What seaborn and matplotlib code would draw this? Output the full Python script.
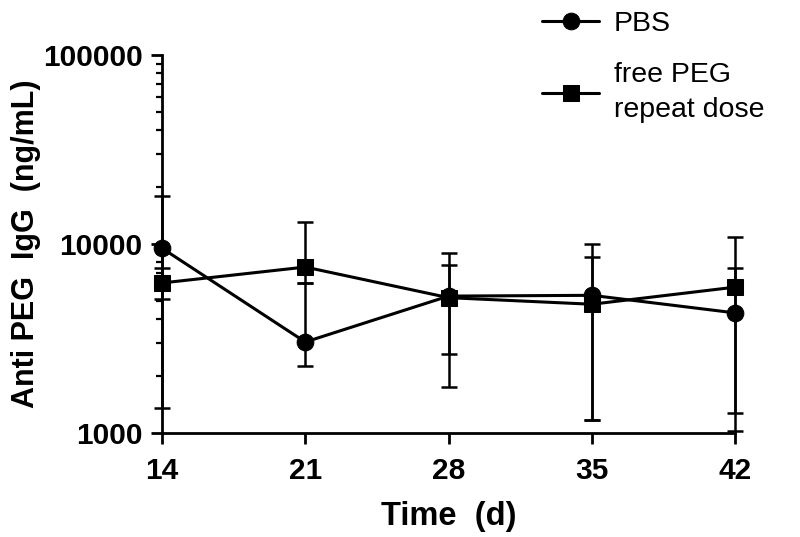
import numpy as np
import pandas as pd
import matplotlib
matplotlib.use("Agg")
import matplotlib.pyplot as plt
import seaborn as sns
from matplotlib.ticker import LogLocator, NullFormatter, FixedLocator, FixedFormatter

days = [14, 21, 28, 35, 42]
pbs_mean = [9500, 3030, 5300, 5350, 4320]
pbs_low = [1355, 2260, 1750, 1170, 1275]
pbs_high = [17950, 6220, 8960, 10000, 7460]
peg_mean = [6220, 7550, 5200, 4800, 5910]
peg_low = [5120, 6220, 2620, 1170, 1030]
peg_high = [7460, 13060, 7740, 8530, 10890]
series_names = ["PBS", "free PEG\nrepeat dose"]
y_ticks = [1000, 10000, 100000]
y_ticklabels = ["1000", "10000", "100000"]

sns.set_style("ticks")
plt.rcParams['font.family'] = ['Liberation Sans', 'DejaVu Sans']
plt.rcParams['text.color'] = 'black'
plt.rcParams['axes.labelcolor'] = 'black'

df = pd.DataFrame({
    "day": days * 2,
    "value": pbs_mean + peg_mean,
    "group": [series_names[0]] * len(days) + [series_names[1]] * len(days),
})

fig = plt.figure(figsize=(8, 5.37), dpi=100)
ax = fig.add_axes([0.2025, 0.1937, 0.7163, 0.7039])

sns.lineplot(data=df, x="day", y="value", style="group", markers=["o", "s"],
             dashes=False, color="black", linewidth=2.2, markersize=12,
             markeredgecolor="black", ax=ax, legend=True, clip_on=False, zorder=3)

for mean, lo, hi in [(pbs_mean, pbs_low, pbs_high), (peg_mean, peg_low, peg_high)]:
    m = np.array(mean, dtype=float)
    yerr = np.vstack([m - np.array(lo), np.array(hi) - m])
    ax.errorbar(days, m, yerr=yerr, fmt="none", ecolor="black", elinewidth=1.8,
                capsize=5.5, capthick=1.8, clip_on=False, zorder=2)

ax.set_yscale("log")
ax.set_ylim(1000, 100000)
ax.set_xlim(14, 42)
ax.yaxis.set_major_locator(FixedLocator(y_ticks))
ax.yaxis.set_major_formatter(FixedFormatter(y_ticklabels))
ax.yaxis.set_minor_locator(LogLocator(base=10, subs=np.arange(2, 10)))
ax.yaxis.set_minor_formatter(NullFormatter())
ax.set_xticks(days)
ax.set_xticklabels([str(d) for d in days])

for s in ["top", "right"]:
    ax.spines[s].set_visible(False)
for s in ["left", "bottom"]:
    ax.spines[s].set_linewidth(2.0)
    ax.spines[s].set_color("black")

ax.tick_params(axis="both", which="major", length=8, width=2.0, colors="black",
               labelsize=21.5)
ax.tick_params(axis="x", which="major", pad=9)
ax.tick_params(axis="y", which="major", pad=6)
ax.tick_params(axis="y", which="minor", length=4.5, width=1.6, colors="black")
for lab in ax.get_xticklabels() + ax.get_yticklabels():
    lab.set_fontweight("bold")

ax.set_xlabel("Time  (d)", fontsize=23.5, fontweight="bold", labelpad=12, color="black")
ax.set_ylabel("Anti PEG  IgG  (ng/mL)", fontsize=22, fontweight="bold", labelpad=1,
              color="black")

handles, labels = ax.get_legend_handles_labels()
leg = ax.legend(handles, labels, loc="upper left", bbox_to_anchor=(0.646, 1.028),
                bbox_transform=fig.transFigure, frameon=False, fontsize=20.5,
                handlelength=2.0, handletextpad=0.5, labelspacing=0.9)
for line in leg.get_lines():
    line.set_linewidth(2.2)
for t in leg.get_texts():
    t.set_linespacing(1.45)
    t.set_color("black")

fig.savefig("out.png", dpi=100)
